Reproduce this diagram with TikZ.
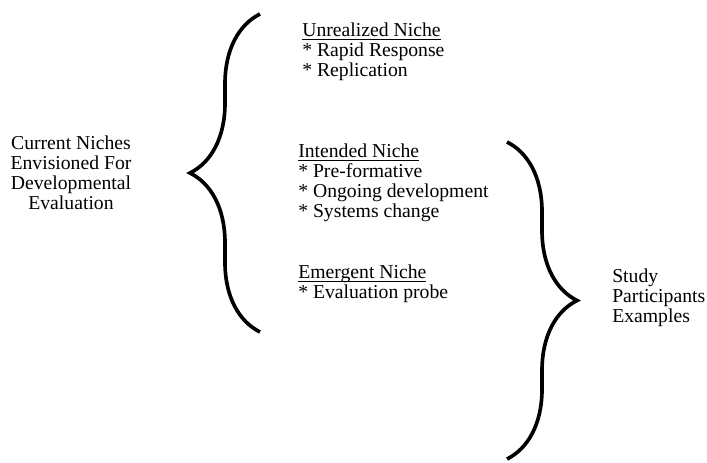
\documentclass[tikz,border=0pt]{standalone}
\usepackage{fontspec}
\setmainfont{Liberation Serif}
\usetikzlibrary{decorations.pathreplacing}
\newcommand\nicheul[1]{\underline{\raisebox{0pt}[\height][0pt]{#1}}}

\begin{document}
\begin{tikzpicture}[x=0.025cm, y=-0.025cm,
	every node/.style={font=\fontsize{14}{14.2}\selectfont, inner sep=0pt},
	bigbrace/.style={line width=2.6pt, decorate, decoration={brace, amplitude=1.75cm}}]
	\useasboundingbox (0,0) rectangle (707,462);
	% Left label
	\node[align=center] (current) at (71,173) {Current Niches\\Envisioned For\\Developmental\\Evaluation};
	% Niches
	\node[align=left, anchor=north west] (unrealized) at (302,23) {\nicheul{Unrealized Niche}\\ * Rapid Response\\ * Replication};
	\node[align=left, anchor=north west] (intended) at (298,144) {\nicheul{Intended Niche}\\ * Pre-formative\\ * Ongoing development\\ * Systems change};
	\node[align=left, anchor=north west] (emergent) at (298,265) {\nicheul{Emergent Niche}\\ * Evaluation probe};
	% Right label
	\node[align=left, anchor=north west] (study) at (612,269) {Study\\Participants\\Examples};
	% Braces
	\coordinate (lbtop) at (260,14);
	\coordinate (lbbot) at (260,332);
	\coordinate (rbtop) at (507,142);
	\coordinate (rbbot) at (507,459);
	\draw[bigbrace] (lbbot) -- (lbtop);
	\draw[bigbrace] (rbtop) -- (rbbot);
\end{tikzpicture}
\end{document}
